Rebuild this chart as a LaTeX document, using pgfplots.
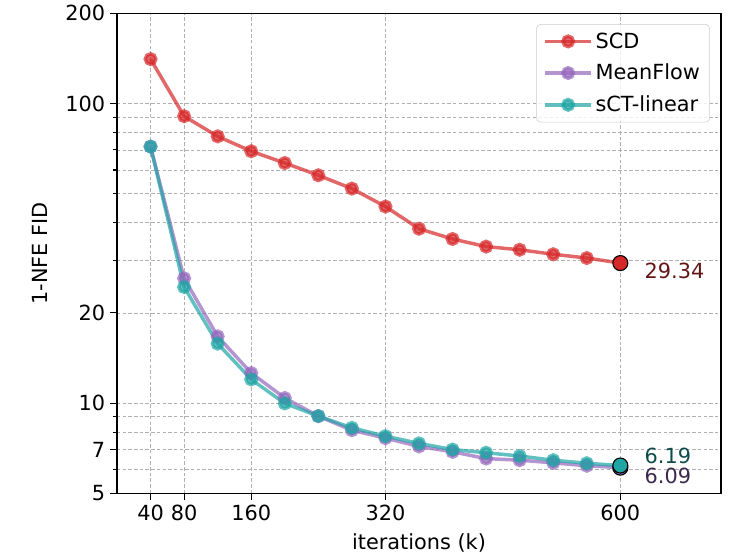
\documentclass[border=0pt]{standalone}
\usepackage{fontspec}
\setmainfont{DejaVu Sans}
\usepackage{pgfplots}
\pgfplotsset{compat=1.18}

\definecolor{scd}{HTML}{D62728}
\definecolor{mflow}{HTML}{9467BD}
\definecolor{sct}{RGB}{32,165,165}
\definecolor{scdtxt}{RGB}{100,22,22}
\definecolor{scttxt}{RGB}{15,75,75}
\definecolor{mftxt}{RGB}{60,42,78}
\definecolor{gridc}{HTML}{B0B0B0}

\begin{document}
\begin{tikzpicture}
\begin{axis}[
    name=ax,
    scale only axis,
    width=434.9pt, height=345.6pt,
    xmin=0, xmax=720,
    ymode=log, ymin=5, ymax=200,
    xtick={40,80,160,320,600},
    ytick={5,7,10,20,100,200},
    yticklabels={5,7,10,20,100,200},
    minor ytick={6,8,9,30,40,50,60,70,80,90},
    xmajorgrids=true, ymajorgrids=true, yminorgrids=true,
    grid style={gridc, line width=0.6pt, dash pattern=on 2.5pt off 1.6pt},
    minor grid style={gridc, line width=0.6pt, dash pattern=on 2.5pt off 1.6pt},
    major grid style={gridc, line width=0.6pt, dash pattern=on 2.5pt off 1.6pt},
    tick pos=left, tick align=outside,
    major tick length=5pt, minor tick length=3pt,
    every tick/.style={black, line width=0.8pt},
    axis line style={line width=1pt},
    font=\fontsize{15}{18}\selectfont,
    tick label style={font=\fontsize{15}{18}\selectfont},
    /pgf/number format/assume math mode=true,
    xlabel={iterations (k)},
    ylabel={1-NFE FID},
    xlabel style={at={(axis description cs:0.5,-0.1035)}, anchor=center},
    ylabel style={at={(axis description cs:-0.128,0.5)}, anchor=center},
    legend style={at={(1,1)}, anchor=north east, xshift=-8pt, yshift=-7.7pt,
        draw=black!20, rounded corners=3pt, fill=white, fill opacity=0.8, text opacity=1,
        font=\fontsize{15}{18}\selectfont, row sep=6pt,
        inner xsep=5pt, inner ysep=4pt},
    legend cell align=left,
    legend image code/.code={
        \draw[mark repeat=2,mark phase=2,#1] plot coordinates {(0pt,0pt) (16.5pt,0pt) (33pt,0pt)};
    },
]

\addplot[scd, opacity=0.7, line width=2.5pt, mark=*, mark size=3.8pt,
    mark options={draw=none, fill=scd}]
    coordinates {
    (40,140.7)(80,90.7)(120,77.7)(160,69.3)(200,63.3)(240,57.6)(280,52.0)(320,45.3)
    (360,38.2)(400,35.3)(440,33.3)(480,32.5)(520,31.4)(560,30.5)(600,29.34)
    };
\addlegendentry{SCD}

\addplot[mflow, opacity=0.7, line width=2.5pt, mark=*, mark size=3.8pt,
    mark options={draw=none, fill=mflow}]
    coordinates {
    (40,71.8)(80,26.1)(120,16.7)(160,12.6)(200,10.4)(240,9.05)(280,8.12)(320,7.64)
    (360,7.17)(400,6.88)(440,6.53)(480,6.45)(520,6.32)(560,6.18)(600,6.09)
    };
\addlegendentry{MeanFlow}

\addplot[sct, opacity=0.7, line width=2.5pt, mark=*, mark size=3.8pt,
    mark options={draw=none, fill=sct}]
    coordinates {
    (40,71.8)(80,24.4)(120,15.8)(160,12.0)(200,9.98)(240,9.05)(280,8.27)(320,7.76)
    (360,7.34)(400,7.0)(440,6.83)(480,6.66)(520,6.45)(560,6.30)(600,6.19)
    };
\addlegendentry{sCT-linear}

% final points
\addplot[forget plot, only marks, mark=*, mark size=5.4pt,
    mark options={fill=scd, draw=black, line width=0.8pt}] coordinates {(600,29.34)};
\addplot[forget plot, only marks, mark=*, mark size=5.4pt,
    mark options={fill=mflow, draw=black, line width=0.8pt}] coordinates {(600,6.09)};
\addplot[forget plot, only marks, mark=*, mark size=5.4pt,
    mark options={fill=sct, draw=black, line width=0.8pt}] coordinates {(600,6.19)};

\node[anchor=west, inner sep=0pt, text=scdtxt, xshift=17.3pt, yshift=-5.6pt]
    at (axis cs:600,29.34) {29.34};
\node[anchor=west, inner sep=0pt, text=scttxt, xshift=17.3pt, yshift=7pt]
    at (axis cs:600,6.19) {6.19};
\node[anchor=west, inner sep=0pt, text=mftxt, xshift=17.3pt, yshift=-6pt]
    at (axis cs:600,6.09) {6.09};
\end{axis}
\pgfresetboundingbox
\path[use as bounding box] ([shift={(-84.24pt,-48pt)}]ax.south west)
    rectangle ([shift={(10.08pt,9.6pt)}]ax.north east);
\end{tikzpicture}
\end{document}
